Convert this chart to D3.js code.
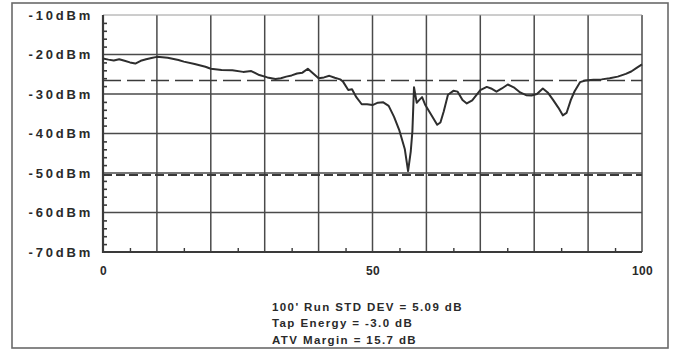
<!DOCTYPE html>
<html>
<head>
<meta charset="utf-8">
<script src="https://cdn.jsdelivr.net/npm/d3@7"></script>
<style>
  html, body { margin: 0; padding: 0; background: #fff; }
  svg { display: block; }
  text { font-family: "Liberation Sans", Arial, sans-serif; font-weight: bold; fill: #2a2a2a; }
</style>
</head>
<body>
<svg id="chart" width="674" height="353"></svg>
<script>
// Distance along the run (feet, 0-100) and measured level (dBm)
const distance = [0, 1, 2, 3, 4, 5, 6, 7, 8, 9, 10, 12, 14, 15, 17, 19, 20, 22, 24, 26, 27.5, 29, 30.5, 32, 33, 34, 35, 36, 37, 38, 39, 40, 41, 42, 43, 44, 44.5, 45.5, 46.2, 47, 48, 49, 50, 51, 52, 53, 54, 55, 56, 56.6, 57.1, 57.4, 57.7, 58.2, 58.7, 59.2, 59.8, 61, 62, 62.6, 63.2, 64, 65, 65.8, 66.7, 67.5, 68.5, 70, 71.2, 72, 73, 74, 75.1, 76.2, 77.4, 78.5, 79.5, 80.5, 81.6, 82.5, 83.5, 84.5, 85.3, 86, 86.8, 87.5, 88.5, 89.5, 91, 92.5, 94, 95.5, 97, 98, 99, 100];
const level = [-21.0, -21.3, -21.5, -21.2, -21.6, -22.0, -22.3, -21.6, -21.2, -20.9, -20.6, -20.8, -21.4, -21.8, -22.4, -23.1, -23.6, -23.9, -24.0, -24.4, -24.2, -25.2, -25.8, -26.2, -26.0, -25.6, -25.3, -24.8, -24.6, -23.6, -24.8, -26.0, -25.8, -25.4, -25.9, -26.3, -26.8, -29.0, -28.8, -30.8, -32.6, -32.6, -32.8, -32.2, -32.1, -33.0, -35.8, -39.3, -44.0, -49.5, -44.5, -39.5, -28.3, -32.2, -31.5, -30.8, -32.8, -35.5, -37.8, -37.2, -34.5, -30.2, -29.2, -29.4, -31.5, -32.4, -31.6, -29.0, -28.2, -28.6, -29.4, -28.6, -27.6, -28.3, -29.6, -30.3, -30.4, -30.0, -28.6, -29.6, -31.5, -33.5, -35.4, -34.8, -31.5, -29.3, -27.0, -26.6, -26.4, -26.3, -26.0, -25.6, -24.9, -24.3, -23.4, -22.5];

// Reference limits (dBm)
const limitUpper = -26.6;
const limitLower = -50.5;

// Axis ticks
const xLabelTicks = [0, 50, 100];
const xGridTicks = [0, 10, 20, 30, 40, 50, 60, 70, 80, 90, 100];
const xMinorTicks = [5, 15, 25, 35, 45, 55, 65, 75, 85, 95];
const yTicks = [-10, -20, -30, -40, -50, -60, -70];
const yMinorTicks = [-68, -66, -64, -62, -58, -56, -54, -52, -48, -46, -44, -42, -38, -36, -34, -32, -28, -26, -24, -22, -18, -16, -14, -12];

// Summary lines under the plot
const notes = [
  "100' Run STD DEV = 5.09 dB",
  "Tap Energy = -3.0 dB",
  "ATV Margin = 15.7 dB"
];

const svg = d3.select("#chart");
const plot = { left: 103, right: 642, top: 15, bottom: 252 };

const x = d3.scaleLinear().domain([0, 100]).range([plot.left, plot.right]);
const y = d3.scaleLinear().domain([-70, -10]).range([plot.bottom, plot.top]);

// outer frame
svg.append("rect")
  .attr("x", 12).attr("y", 3).attr("width", 656).attr("height", 345)
  .attr("fill", "none").attr("stroke", "#6a6a6a").attr("stroke-width", 1.6);

// grid
const grid = svg.append("g").attr("stroke", "#4a4a4a").attr("stroke-width", 1.5);
grid.selectAll("line.v").data(xGridTicks).join("line")
  .attr("x1", d => x(d)).attr("x2", d => x(d))
  .attr("y1", plot.top).attr("y2", plot.bottom);
grid.selectAll("line.h").data(yTicks.filter(d => d !== -10)).join("line")
  .attr("x1", plot.left).attr("x2", plot.right)
  .attr("y1", d => y(d)).attr("y2", d => y(d));
// thin top edge
svg.append("line")
  .attr("x1", plot.left).attr("x2", plot.right)
  .attr("y1", y(-10)).attr("y2", y(-10))
  .attr("stroke", "#9a9a9a").attr("stroke-width", 1);

// axes lines (heavier)
svg.append("line").attr("x1", plot.left).attr("x2", plot.left)
  .attr("y1", plot.top).attr("y2", plot.bottom + 1)
  .attr("stroke", "#3a3a3a").attr("stroke-width", 2.2);
svg.append("line").attr("x1", plot.left).attr("x2", plot.right)
  .attr("y1", plot.bottom).attr("y2", plot.bottom)
  .attr("stroke", "#3a3a3a").attr("stroke-width", 2.2);

// minor ticks pointing into the plot
const yMinor = svg.append("g").attr("transform", `translate(${plot.left},0)`)
  .call(d3.axisRight(y).tickValues(yMinorTicks).tickSize(4).tickFormat(""));
yMinor.select(".domain").remove();
yMinor.selectAll("line").attr("stroke", "#3a3a3a").attr("stroke-width", 1.6);

const xMinor = svg.append("g").attr("transform", `translate(0,${plot.bottom})`)
  .call(d3.axisTop(x).tickValues(xMinorTicks).tickSize(4).tickFormat(""));
xMinor.select(".domain").remove();
xMinor.selectAll("line").attr("stroke", "#3a3a3a").attr("stroke-width", 1.4);

// y labels
const yAxis = svg.append("g").attr("transform", `translate(${plot.left},0)`)
  .call(d3.axisLeft(y).tickValues(yTicks).tickSize(0).tickPadding(10)
    .tickFormat(d => d + "dBm"));
yAxis.select(".domain").remove();
yAxis.selectAll("text")
  .style("font-size", "13px").style("letter-spacing", "2.8px")
  .style("font-weight", "bold").style("fill", "#2a2a2a");

// x labels
const xAxis = svg.append("g").attr("transform", `translate(0,${plot.bottom})`)
  .call(d3.axisBottom(x).tickValues(xLabelTicks).tickSize(0).tickPadding(14));
xAxis.select(".domain").remove();
xAxis.selectAll("text")
  .style("font-size", "12px").style("letter-spacing", "0.4px")
  .style("font-weight", "bold").style("fill", "#2a2a2a");

// limit lines
svg.append("line")
  .attr("x1", plot.left).attr("x2", plot.right)
  .attr("y1", y(limitUpper)).attr("y2", y(limitUpper))
  .attr("stroke", "#3a3a3a").attr("stroke-width", 1.5)
  .attr("stroke-dasharray", "18,6");
svg.append("line")
  .attr("x1", plot.left).attr("x2", plot.right)
  .attr("y1", y(limitLower)).attr("y2", y(limitLower))
  .attr("stroke", "#3a3a3a").attr("stroke-width", 1.8)
  .attr("stroke-dasharray", "9,4");

// measured trace
const pts = distance.map((d, i) => [d, level[i]]);
svg.append("path")
  .datum(pts)
  .attr("fill", "none")
  .attr("stroke", "#2e2e2e")
  .attr("stroke-width", 2)
  .attr("stroke-linejoin", "round")
  .attr("d", d3.line().x(d => x(d[0])).y(d => y(d[1])));

// summary text
svg.append("g").selectAll("text").data(notes).join("text")
  .attr("x", 272)
  .attr("y", (d, i) => 310.5 + i * 16.7)
  .style("font-size", "11.5px")
  .style("letter-spacing", "1.4px")
  .text(d => d);
</script>
</body>
</html>
